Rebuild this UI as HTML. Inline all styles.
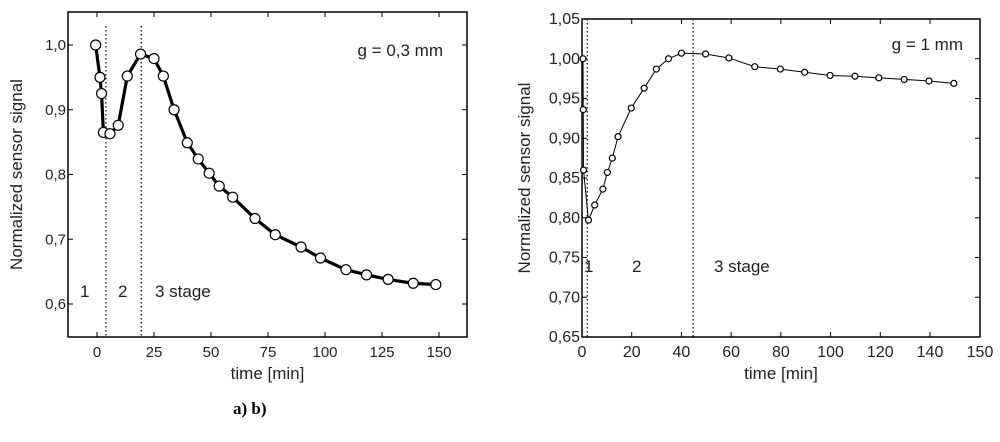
<!DOCTYPE html>
<html><head><meta charset="utf-8"><style>
body{margin:0;background:#fff;width:1000px;height:437px;overflow:hidden}
svg{font-family:"Liberation Sans",sans-serif}
</style></head><body>
<svg id="fig" width="1000" height="437" viewBox="0 0 1000 437">
<g id="chartA"></g>
<g id="chartB"></g>
<text x="233" y="414" font-family="Liberation Serif" font-weight="bold" font-size="17">a) b)</text>
</svg>
<script>
const aTimes=[-0.6,1.3,2.0,2.8,5.7,9.3,13.3,19.1,25,29.1,33.8,39.6,44.4,49.2,53.6,59.5,69.3,78.2,89.5,98,109.2,118.2,127.7,138.7,148.6];
const aValues=[1.0,0.95,0.925,0.865,0.863,0.876,0.952,0.986,0.979,0.952,0.9,0.849,0.824,0.802,0.782,0.765,0.732,0.707,0.688,0.671,0.653,0.645,0.638,0.632,0.630];
const aXTicks=[0,25,50,75,100,125,150];
const aYTicks=[0.6,0.7,0.8,0.9,1.0];
const aYLabels=["0,6","0,7","0,8","0,9","1,0"];
const aStageLines=[3.9,19.4];
const bTimes=[0.4,0.5,0.6,2.6,5.1,8.4,10.2,12.2,14.5,19.8,25,29.9,34.8,40,49.7,59.1,69.5,79.8,89.6,99.8,109.8,119.4,129.6,139.6,149.6];
const bValues=[1.0,0.936,0.86,0.797,0.816,0.836,0.857,0.875,0.902,0.938,0.963,0.987,1.0,1.007,1.006,1.001,0.99,0.987,0.983,0.979,0.978,0.976,0.974,0.972,0.969];
const bXTicks=[0,20,40,60,80,100,120,140];
const bYTicks=[0.65,0.70,0.75,0.80,0.85,0.90,0.95,1.00,1.05];
const bYLabels=["0,65","0,70","0,75","0,80","0,85","0,90","0,95","1,00","1,05"];
const bStageLines=[2.1,44.7];
const NS="http://www.w3.org/2000/svg";
function mk(p,tag,at,txt){const e=document.createElementNS(NS,tag);for(const k in at)e.setAttribute(k,at[k]);if(txt!==undefined)e.textContent=txt;p.appendChild(e);return e;}
function draw(g,o){
 const X=t=>o.x0+(t-o.t0)/(o.t1-o.t0)*(o.x1-o.x0);
 const Y=v=>o.y0-(v-o.v0)/(o.v1-o.v0)*(o.y0-o.y1);
 const fr=mk(g,'rect',{x:o.L,y:o.T,width:o.R-o.L,height:o.B-o.T,fill:'none',stroke:'#000','stroke-width':1.5});
 
 
 o.xt.forEach(t=>{const x=X(t);
  mk(g,'line',{x1:x,y1:o.B,x2:x,y2:o.B-5,stroke:'#000'});mk(g,'line',{x1:x,y1:o.T,x2:x,y2:o.T+5,stroke:'#000'});
  const l=mk(g,'text',{x:x,y:o.B+20,'text-anchor':'middle','font-size':o.fs,fill:'#222'},String(t));
  
  });
 if(o.edge){const l=mk(g,'text',{x:o.R,y:o.B+20,'text-anchor':'middle','font-size':o.fs,fill:'#222'},o.edge);
  
  }
 o.yt.forEach((v,i)=>{const y=Y(v);
  mk(g,'line',{x1:o.L,y1:y,x2:o.L+5,y2:y,stroke:'#000'});mk(g,'line',{x1:o.R,y1:y,x2:o.R-5,y2:y,stroke:'#000'});
  const l=mk(g,'text',{x:o.L-2,y:y+5,'text-anchor':'end','font-size':o.fs,fill:'#222'},o.yl[i]);
  
  });
 o.st.forEach(t=>{const s=mk(g,'line',{x1:X(t),y1:o.sTop,x2:X(t),y2:o.B,stroke:'#000','stroke-dasharray':'1.5 2.5','stroke-width':o.sw});
  
  });
 const pts=o.ts.map((t,i)=>X(t)+','+Y(o.vs[i])).join(' ');
 const pl=mk(g,'polyline',{points:pts,fill:'none',stroke:'#000','stroke-width':o.lw});
 
 
 o.ts.forEach((t,i)=>{const c=mk(g,'circle',{cx:X(t),cy:Y(o.vs[i]),r:o.r,fill:'#fff',stroke:'#000','stroke-width':1.2});
  
  });
 const xt=mk(g,'text',{x:(o.L+o.R)/2,y:o.B+42,'text-anchor':'middle','font-size':17,fill:'#222'},'time  [min]');
 
 
 xt.setAttribute('xml:space','preserve');
 const yt=mk(g,'text',{x:0,y:0,'text-anchor':'middle','font-size':17,fill:'#222',transform:`translate(${o.yx},${(o.T+o.B)/2}) rotate(-90)`},'Normalized sensor signal');
 
 
 const gl=mk(g,'text',{x:o.gx,y:o.gy,'text-anchor':'end','font-size':17,fill:'#222'},o.gt);
 
 
 o.labels.forEach(a=>{const l=mk(g,'text',{x:a[0],y:a[1],'font-size':17,fill:'#222'},a[2]);
  
  });
}
draw(document.getElementById('chartA'),{L:68,R:467,T:12,B:337,x0:97,x1:439,t0:0,t1:150,y0:304,y1:45,v0:0.6,v1:1.0,fs:15,
 xt:aXTicks,yt:aYTicks,yl:aYLabels,st:aStageLines,sTop:26,sw:1.2,ts:aTimes,vs:aValues,lw:3.2,r:5,yx:22,
 gx:443,gy:56,gt:'g = 0,3 mm',labels:[[80,297,'1'],[118,297,'2'],[155,297,'3  stage']]});
draw(document.getElementById('chartB'),{L:582,R:980,T:19,B:337,x0:582,x1:930,t0:0,t1:140,y0:337,y1:19,v0:0.65,v1:1.05,fs:16,edge:'150',
 xt:bXTicks,yt:bYTicks,yl:bYLabels,st:bStageLines,sTop:19,sw:1.2,ts:bTimes,vs:bValues,lw:1,r:3,yx:530,
 gx:963,gy:50,gt:'g = 1 mm',labels:[[584,272,'1'],[632,272,'2'],[714,272,'3 stage']]});
</script>
</body></html>
